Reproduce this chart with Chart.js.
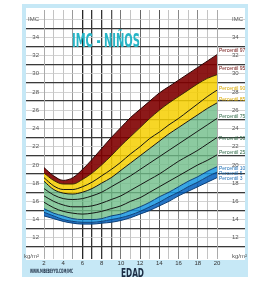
<!DOCTYPE html>
<html><head><meta charset="utf-8">
<script src="https://cdn.jsdelivr.net/npm/chart.js@4.4.1/dist/chart.umd.min.js"></script>
<style>html,body{margin:0;padding:0;background:#fff;}canvas{display:block;}</style>
</head><body>
<canvas id="c" width="263" height="286"></canvas>
<script>
// ---- data ----
const ages = [2,3,4,5,6,7,8,9,10,11,12,13,14,15,16,17,18,19,20];
const p97 = [19.7,18.8,18.3,18.6,19.5,20.6,21.8,23.0,24.1,25.2,26.1,27.0,27.9,28.6,29.3,30.0,30.7,31.4,32.1];
const p95 = [19.1,18.3,17.9,17.9,18.4,19.1,20.0,21.0,22.1,23.1,24.1,25.1,26.0,26.8,27.5,28.2,28.9,29.5,29.9];
const p90 = [18.6,17.7,17.3,17.3,17.6,18.1,18.8,19.5,20.3,21.2,22.0,22.9,23.6,24.4,25.1,25.9,26.7,27.5,28.2];
const p85 = [18.2,17.3,16.9,16.8,17.0,17.4,18.0,18.6,19.4,20.2,21.0,21.8,22.6,23.4,24.1,24.8,25.5,26.2,26.8];
const p75 = [17.4,16.7,16.3,16.2,16.3,16.6,17.0,17.6,18.2,18.8,19.5,20.2,20.9,21.6,22.3,23.0,23.7,24.4,25.1];
const p50 = [16.6,16.0,15.6,15.4,15.4,15.5,15.8,16.2,16.6,17.2,17.8,18.4,19.0,19.7,20.4,21.0,21.6,22.3,23.0];
const p25 = [15.9,15.3,14.9,14.7,14.6,14.7,14.9,15.2,15.5,16.0,16.4,17.0,17.6,18.2,18.8,19.4,20.0,20.5,21.1];
const p10 = [15.2,14.7,14.4,14.1,14.0,14.0,14.1,14.4,14.6,15.0,15.4,15.9,16.5,17.0,17.6,18.2,18.7,19.3,19.8];
const p5  = [14.8,14.4,14.0,13.8,13.7,13.7,13.8,14.0,14.2,14.5,14.9,15.4,15.9,16.5,17.0,17.6,18.1,18.7,19.2];
const p3  = [14.4,14.1,13.8,13.6,13.5,13.5,13.6,13.7,13.9,14.2,14.6,15.0,15.5,16.0,16.6,17.1,17.6,18.1,18.6];
const seriesNames = ['Percentil 97','Percentil 95','Percentil 90','Percentil 85','Percentil 75','Percentil 50','Percentil 25','Percentil 10','Percentil 5','Percentil 3'];
const xTickLabels = [2,4,6,8,10,12,14,16,18,20];
const yTickLabels = [12,14,16,18,20,22,24,26,28,30,32,34];
const titleText = 'IMC - NIÑOS';
const xTitle = 'EDAD';
const yTopLabel = 'IMC';
const yUnitLabel = 'kg/m²';
const sourceText = 'WWW.MIBEBEYYO.COM/IMC';

// ---- styles ----
const RED = 'rgba(128,0,0,0.9)', YEL = 'rgba(246,207,0,0.85)', GRN = 'rgba(111,189,136,0.8)',
      BLU1 = 'rgba(22,150,226,0.85)', BLU2 = 'rgba(0,94,188,0.85)';
const lineDark = '#151515', lineBlue = '#0b3f78';
const labelColors = ['#6e1010','#6e1010','#d9a900','#d9a900','#2f6a48','#2f6a48','#2f6a48','#1f6fb5','#1f6fb5','#1f6fb5'];
const labelOffsets = [-4,-6,-2,-3,-2,1,-2,2,1,1];

const series = [p97,p95,p90,p85,p75,p50,p25,p10,p5,p3];
const pts = arr => arr.map((v,i)=>({x:ages[i], y:v}));
const fills = [1,3,false,7,false,false,false,8,9,false];
const fillColors = [RED,YEL,null,GRN,null,null,null,BLU1,BLU2,null];
const borderColors = ['#2a0303','#3a2a00',lineDark,lineDark,lineDark,lineDark,lineDark,lineBlue,lineBlue,lineBlue];

const datasets = series.map((s,i)=>({
  label: seriesNames[i],
  data: pts(s),
  fill: fills[i],
  backgroundColor: fillColors[i] || 'rgba(0,0,0,0)',
  borderColor: borderColors[i],
  borderWidth: 1,
  pointRadius: 0,
  tension: 0.4,
  cubicInterpolationMode: 'monotone'
}));

const xGridCols = {2:'#b0b0b0',3:'#c4c4c4',4:'#c4c4c4',5:'#9a9a9a',6:'#262626',7:'#333',8:'#333',9:'#555',10:'#777',11:'#c4c4c4',12:'#666',13:'#c4c4c4',14:'#555',15:'#c4c4c4',16:'#888',17:'#c4c4c4',18:'#888',19:'#c4c4c4',20:'#b0b0b0'};
function yCol(ctx){
  const v = ctx.tick ? ctx.tick.value : undefined;
  if (v === undefined || !Number.isInteger(v)) return 'rgba(0,0,0,0)';
  if (v === 10 || v === 37) return 'rgba(0,0,0,0)';
  return (Math.abs(v % 2) === 1) ? '#3a3a3a' : '#c8c8c8';
}
function yW(ctx){
  const v = ctx.tick ? ctx.tick.value : undefined;
  return (Number.isInteger(v) && Math.abs(v%2)===1) ? 1.3 : 0.8;
}
function yLabel(v){
  if (v === 36) return yTopLabel;
  if (v === 10) return yUnitLabel;
  if (yTickLabels.includes(v)) return String(v);
  return '';
}

const panels = {
  id:'panels',
  beforeDraw(chart){
    const c = chart.ctx;
    c.save();
    c.fillStyle = '#c6e8f6';
    c.fillRect(22,4,226,273);
    c.fillStyle = '#ffffff';
    c.fillRect(26,8,219,252);
    c.restore();
  },
  afterDraw(chart){
    const c = chart.ctx;
    const ys = chart.scales.y;
    c.save();
    c.font = '5px "Liberation Sans", Arial, sans-serif';
    c.textBaseline = 'middle';
    c.textAlign = 'left';
    series.forEach((s,i)=>{
      const y = ys.getPixelForValue(s[s.length-1]) + labelOffsets[i];
      c.fillStyle = labelColors[i];
      c.fillText(seriesNames[i], 219, y);
    });
    c.restore();
    function cond(text, font, color, x, base, width){
      c.save();
      c.font = font;
      const w = c.measureText(text).width;
      c.translate(x, base);
      c.scale(width / w, 1);
      c.fillStyle = color;
      c.textBaseline = 'alphabetic';
      c.textAlign = 'left';
      c.fillText(text, 0, 0);
      c.restore();
    }
    cond(titleText, 'bold 20px "DejaVu Sans Condensed", "DejaVu Sans", sans-serif', '#27b5c6', 72, 47, 68);
    cond(xTitle, 'bold 13px "DejaVu Sans Condensed", "DejaVu Sans", sans-serif', '#1c2d44', 121, 277, 23);
    cond(sourceText, 'bold 6px "DejaVu Sans Condensed", "DejaVu Sans", sans-serif', '#1c2d44', 30, 273, 43);
  }
};

Chart.defaults.font.family = '"Liberation Sans", Arial, sans-serif';
new Chart(document.getElementById('c'), {
  type: 'line',
  data: { datasets },
  plugins: [panels],
  options: {
    responsive: false,
    animation: false,
    devicePixelRatio: 1,
    layout: { padding: { top: 10, left: 0, right: 0, bottom: 0 } },
    plugins: { legend: {display:false}, tooltip: {enabled:false}, filler: {propagate:false, drawTime:'beforeDatasetsDraw'} },
    scales: {
      x: {
        type: 'linear', min: 2, max: 20, position: 'bottom',
        afterFit(s){ s.height = 30; },
        border: { display: false },
        grid: { color: c => xGridCols[c.tick ? c.tick.value : 2] || '#ccc', lineWidth: c => { const v = c.tick ? c.tick.value : 0; return (v>=6 && v<=9) ? 1.3 : 1; }, tickLength: 3 },
        ticks: { stepSize: 1, autoSkip: false, maxRotation: 0, padding: 1, color: '#333', font: { size: 6 },
          callback: v => xTickLabels.includes(v) ? String(v) : '' }
      },
      y: {
        type: 'linear', min: 10, max: 37, position: 'left',
        afterFit(s){ s.width = 44; },
        border: { display: true, color: '#aaa', width: 1 },
        grid: { color: yCol, lineWidth: yW, tickColor: yCol, tickLength: 18 },
        ticks: { stepSize: 0.5, autoSkip: false, padding: -13, color: '#555', font: { size: 6 }, callback: yLabel }
      },
      y2: {
        type: 'linear', min: 10, max: 37, position: 'right',
        afterFit(s){ s.width = 46; },
        border: { display: true, color: '#aaa', width: 1 },
        grid: { drawOnChartArea: false, tickColor: yCol, lineWidth: yW, tickLength: 28 },
        ticks: { stepSize: 0.5, autoSkip: false, padding: -13, color: '#555', font: { size: 6 }, callback: yLabel }
      }
    }
  }
});
</script>
</body></html>
